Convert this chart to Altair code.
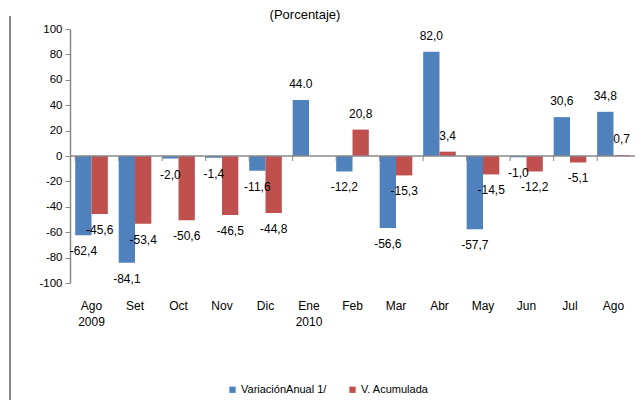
import altair as alt
import pandas as pd

categories = ["Ago 2009", "Set", "Oct", "Nov", "Dic", "Ene 2010", "Feb",
              "Mar", "Abr", "May", "Jun", "Jul", "Ago 2010"]
anual = [-62.4, -84.1, -2.0, -1.4, -11.6, 44.0, -12.2, -56.6, 82.0, -57.7, -1.0, 30.6, 34.8]
acum = [-45.6, -53.4, -50.6, -46.5, -44.8, None, 20.8, -15.3, 3.4, -14.5, -12.2, -5.1, 0.7]
anual_labels = ["-62,4", "-84,1", "-2,0", "-1,4", "-11,6", "44.0", "-12,2",
                "-56,6", "82,0", "-57,7", "-1,0", "30,6", "34,8"]
acum_labels = ["-45,6", "-53,4", "-50,6", "-46,5", "-44,8", None, "20,8",
               "-15,3", "3,4", "-14,5", "-12,2", "-5,1", "0,7"]
series = ["VariaciónAnual 1/", "V. Acumulada"]
colors = ["#4F81BD", "#C0504D"]
y_ticks = [-100, -80, -60, -40, -20, 0, 20, 40, 60, 80, 100]

rows = []
for c, v, l in zip(categories, anual, anual_labels):
    rows.append({"cat": c, "serie": series[0], "v": v, "lab": l})
for c, v, l in zip(categories, acum, acum_labels):
    if v is not None:
        rows.append({"cat": c, "serie": series[1], "v": v, "lab": l})
df = pd.DataFrame(rows)
one = pd.DataFrame({"k": [0]})

FONT = "Liberation Sans, Arial, sans-serif"

xscale = alt.Scale(domain=categories, paddingInner=0.25, paddingOuter=0.12)
yscale = alt.Scale(domain=[-100, 100], nice=False)

x_axis = alt.Axis(orient="bottom", domain=False, ticks=False, labelAngle=0,
                  labelPadding=22, labelFont=FONT, labelFontSize=12,
                  labelColor="#000", labelLineHeight=16, labelBaseline="middle",
                  labelExpr="datum.label == 'Ago 2010' ? 'Ago' : split(datum.label, ' ')")
y_axis = alt.Axis(values=y_ticks, grid=False, domainColor="#888", domainWidth=1.5,
                  tickColor="#888", tickSize=5, labelFont=FONT, labelFontSize=11.5,
                  labelColor="#000", labelPadding=3, labelOverlap=False,
                  labelFlush=False, labelExpr="'' + datum.value")

x_enc = alt.X("cat:N", scale=xscale, sort=categories, title=None, axis=x_axis)
y_enc = alt.Y("v:Q", scale=yscale, title=None, axis=y_axis)
y_zero = alt.Y(datum=0, scale=yscale, title=None, axis=y_axis)
xoff = alt.XOffset("serie:N", sort=series, scale=alt.Scale(domain=series, paddingInner=0, paddingOuter=0))
color = alt.Color("serie:N", scale=alt.Scale(domain=series, range=colors), sort=series,
                  legend=alt.Legend(title=None, orient="none", legendX=157, legendY=355,
                                    direction="horizontal", symbolType="square", symbolSize=40,
                                    symbolStrokeWidth=0, labelFont=FONT, labelFontSize=11,
                                    labelColor="#000", columnPadding=20, labelOffset=3))

base = alt.Chart(df)
single = alt.Chart(one)

bars = base.mark_bar().encode(x=x_enc, xOffset=xoff, y=y_enc, color=color)

zero = single.mark_rule(color="#888", strokeWidth=1.5).encode(
    y=y_zero, x=alt.value(0), x2=alt.value(570))

tick_df = pd.DataFrame({"cat": categories})
ticks = alt.Chart(tick_df).mark_rule(color="#888", strokeWidth=1).encode(
    x=alt.X("cat:N", scale=xscale, sort=categories, bandPosition=0, title=None, axis=x_axis),
    y=y_zero, y2=alt.value(132))

pos = base.transform_filter("datum.v >= 0").mark_text(
    font=FONT, fontSize=12, color="#000", baseline="middle", dy=-16).encode(
    x=x_enc, xOffset=xoff, y=y_enc, text="lab:N")
neg = base.transform_filter("datum.v < 0").mark_text(
    font=FONT, fontSize=12, color="#000", baseline="middle", dy=16).encode(
    x=x_enc, xOffset=xoff, y=y_enc, text="lab:N")

border = single.mark_rule(color="#888", strokeWidth=2).encode(
    x=alt.value(-60), y=alt.value(-13), y2=alt.value(390))

title = single.mark_text(font=FONT, fontSize=13, color="#000",
                         baseline="alphabetic").encode(
    x=alt.value(235), y=alt.value(-10), text=alt.value("(Porcentaje)"))

chart = alt.layer(bars, zero, ticks, pos, neg, border, title).properties(
    width=565, height=254,
    autosize=alt.AutoSizeParams(type="none"),
    padding={"left": 62, "top": 21, "right": 0, "bottom": 117},
).configure_view(stroke=None)

chart.save("out.html", embed_options={"renderer": "svg", "actions": False})
